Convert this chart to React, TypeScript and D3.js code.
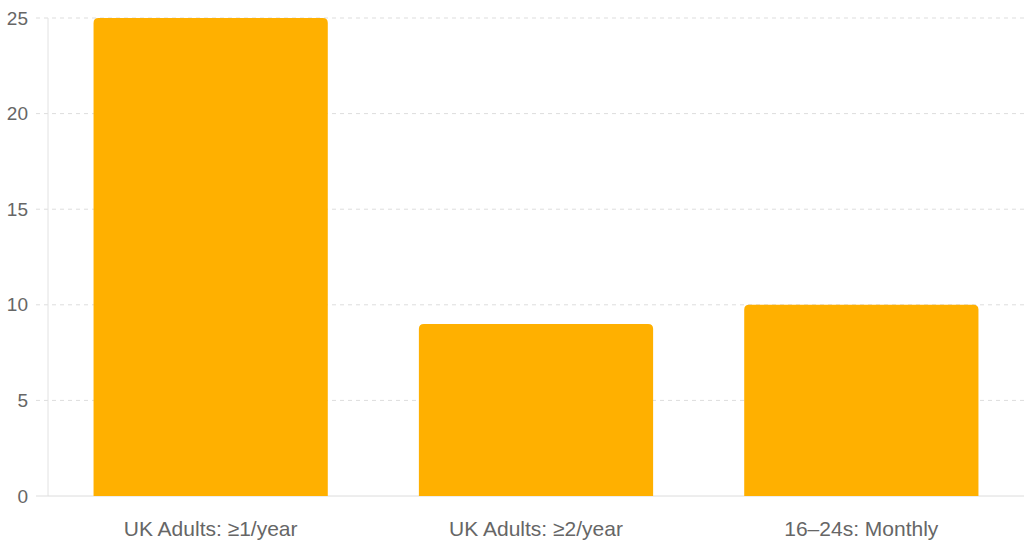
import { useRef, useEffect } from 'react';
import * as d3 from 'd3';

const categories = ['UK Adults: ≥1/year', 'UK Adults: ≥2/year', '16–24s: Monthly'];
const values = [25, 9, 10];
const yTicks = [0, 5, 10, 15, 20, 25];

const width = 1024;
const height = 547;
const margin = { top: 18, right: 0, bottom: 51, left: 48 };

export default function App() {
  const svgRef = useRef<SVGSVGElement>(null);

  useEffect(() => {
    if (!svgRef.current) return;
    const svg = d3.select(svgRef.current);
    svg.selectAll('*').remove();

    const innerW = width - margin.left - margin.right;
    const innerH = height - margin.top - margin.bottom;

    const x = d3.scaleBand<string>().domain(categories).range([0, innerW]).paddingInner(0.28).paddingOuter(0.14);
    const y = d3.scaleLinear().domain([0, 25]).range([innerH, 0]);

    const g = svg.append('g').attr('transform', `translate(${margin.left},${margin.top})`);

    // dashed grid lines, starting a bit left of the axis as ticks
    g.selectAll('.grid')
      .data(yTicks.filter((t) => t > 0))
      .enter()
      .append('line')
      .attr('x1', -12)
      .attr('x2', innerW)
      .attr('y1', (d) => y(d))
      .attr('y2', (d) => y(d))
      .attr('stroke', '#dddddd')
      .attr('stroke-dasharray', '4,4');

    g.append('line')
      .attr('x1', -12)
      .attr('x2', 0)
      .attr('y1', y(0))
      .attr('y2', y(0))
      .attr('stroke', '#dddddd');

    // axis lines
    g.append('line')
      .attr('x1', 0)
      .attr('x2', 0)
      .attr('y1', 0)
      .attr('y2', innerH)
      .attr('stroke', '#e2e2e2');
    g.append('line')
      .attr('x1', 0)
      .attr('x2', innerW)
      .attr('y1', innerH)
      .attr('y2', innerH)
      .attr('stroke', '#dcdcdc');

    // bars with rounded top corners
    const r = 5;
    g.selectAll('.bar')
      .data(values)
      .enter()
      .append('path')
      .attr('fill', '#FFB000')
      .attr('d', (d, i) => {
        const x0 = x(categories[i])!;
        const w = x.bandwidth();
        const yt = y(d);
        const yb = y(0);
        return `M${x0},${yb}V${yt + r}Q${x0},${yt} ${x0 + r},${yt}H${x0 + w - r}Q${x0 + w},${yt} ${x0 + w},${yt + r}V${yb}Z`;
      });

    g.selectAll('.ylab')
      .data(yTicks)
      .enter()
      .append('text')
      .attr('x', -20)
      .attr('y', (d) => y(d))
      .attr('dy', '0.35em')
      .attr('text-anchor', 'end')
      .attr('fill', '#666666')
      .attr('font-size', '19px')
      .text((d) => d);

    g.selectAll('.xlab')
      .data(categories)
      .enter()
      .append('text')
      .attr('x', (d) => x(d)! + x.bandwidth() / 2)
      .attr('y', innerH + 40)
      .attr('text-anchor', 'middle')
      .attr('fill', '#666666')
      .attr('font-size', '21px')
      .text((d) => d);
  }, []);

  return (
    <div style={{ position: 'fixed', left: 0, top: 0, width, height, background: '#fff' }}>
      <svg
        ref={svgRef}
        width={width}
        height={height}
        style={{ display: 'block', fontFamily: '"Liberation Sans", Arial, Helvetica, sans-serif' }}
      />
    </div>
  );
}
